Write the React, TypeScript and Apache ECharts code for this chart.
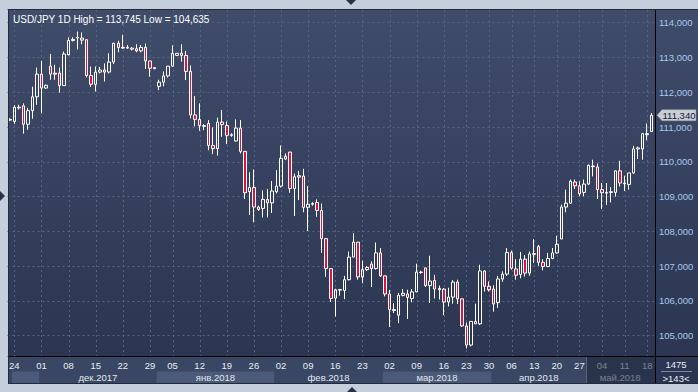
import React, { useEffect, useRef } from 'react';
import * as echarts from 'echarts';

const opens = [
  111.22, 111.16, 111.57, 111.61, 111.08, 111.47, 111.87, 112.52, 112.12, 112.75,
  112.55, 112.55, 112.19, 113.08, 113.49, 113.56, 113.56, 113.51, 112.48, 112.23,
  112.58, 112.64, 112.58, 112.87, 113.41, 113.29, 113.27, 113.27, 113.25, 113.19,
  113.29, 112.90, 112.71, 112.17, 112.29, 112.47, 112.75, 113.06, 113.12, 113.06,
  112.60, 111.35, 111.22, 111.04, 111.10, 110.47, 110.38, 111.14, 111.04, 110.78,
  110.60, 110.97, 110.30, 109.14, 109.26, 108.70, 108.66, 108.92, 108.82, 109.14,
  109.30, 110.08, 110.28, 109.23, 109.60, 109.59, 108.69, 108.80, 108.83, 108.60,
  107.79, 106.93, 106.08, 106.31, 106.30, 106.61, 107.26, 107.69, 106.69, 106.90,
  107.06, 106.93, 107.38, 106.72, 106.20, 105.75, 105.59, 106.16, 106.20, 106.07,
  106.26, 106.83, 106.95, 106.44, 106.59, 106.36, 106.34, 105.97, 106.11, 106.54,
  106.06, 105.28, 104.73, 105.41, 105.34, 106.86, 106.42, 106.34, 105.95, 106.63,
  106.77, 107.39, 106.92, 106.76, 107.20, 106.80, 107.34, 107.56, 107.11, 106.99,
  107.22, 107.38, 107.78, 108.70, 108.81, 109.42, 109.31, 109.12, 109.36, 109.88,
  109.85, 109.20, 109.12, 109.14, 109.12, 109.74, 109.39, 109.35, 109.68, 110.37,
  110.37, 110.81, 110.87,
];
const closes = [
  111.20, 111.57, 111.55, 111.08, 111.47, 111.87, 112.52, 112.12, 112.20, 112.52,
  112.52, 112.19, 113.10, 113.49, 113.52, 113.58, 113.50, 112.48, 112.23, 112.58,
  112.64, 112.58, 112.87, 113.41, 113.29, 113.27, 113.29, 113.24, 113.19, 113.29,
  112.90, 112.69, 112.68, 112.29, 112.47, 112.75, 113.12, 113.12, 113.06, 112.60,
  111.35, 111.22, 111.04, 111.02, 110.47, 110.38, 111.14, 111.07, 110.76, 110.76,
  110.97, 110.30, 109.11, 109.26, 108.70, 108.63, 108.92, 108.82, 109.16, 109.30,
  110.10, 110.16, 109.23, 109.57, 109.56, 108.69, 108.78, 108.78, 108.60, 107.79,
  106.93, 106.07, 106.32, 106.33, 106.61, 107.26, 107.69, 106.69, 106.90, 106.96,
  106.93, 107.38, 106.72, 106.20, 105.75, 105.72, 106.16, 106.22, 106.10, 106.26,
  106.83, 106.82, 106.44, 106.57, 106.34, 106.32, 105.97, 106.11, 106.54, 106.06,
  105.28, 104.73, 105.41, 105.34, 106.86, 106.42, 106.32, 105.91, 106.63, 106.77,
  107.39, 106.94, 106.74, 107.20, 106.80, 107.35, 107.36, 107.11, 106.99, 107.22,
  107.38, 107.63, 108.70, 108.81, 109.44, 109.31, 109.08, 109.36, 109.90, 109.86,
  109.20, 109.11, 109.10, 109.12, 109.74, 109.39, 109.37, 109.68, 110.37, 110.40,
  110.81, 110.78, 111.34,
];
const lows = [
  111.17, 111.09, 111.50, 110.81, 110.92, 111.24, 111.64, 111.39, 112.10, 112.36,
  112.36, 111.99, 112.19, 113.06, 113.46, 113.23, 113.38, 112.43, 112.15, 112.02,
  112.54, 112.31, 112.54, 112.81, 113.15, 113.25, 113.25, 113.20, 113.15, 113.15,
  112.67, 112.45, 112.66, 112.06, 112.17, 112.42, 112.73, 113.04, 112.88, 112.35,
  111.25, 111.02, 110.89, 110.91, 110.33, 110.22, 110.18, 110.72, 110.51, 110.72,
  110.58, 110.24, 108.93, 108.47, 108.26, 108.59, 108.40, 108.40, 108.53, 109.09,
  109.26, 110.05, 109.11, 108.44, 108.90, 108.55, 108.01, 108.74, 108.42, 107.38,
  106.69, 105.97, 105.55, 106.15, 106.05, 106.59, 107.26, 106.61, 106.51, 106.86,
  106.40, 106.90, 106.69, 106.13, 105.25, 105.65, 105.36, 106.13, 105.48, 105.96,
  106.25, 106.78, 106.40, 105.94, 106.07, 106.04, 105.59, 105.84, 105.92, 105.91,
  105.25, 104.635, 104.69, 105.34, 105.31, 106.27, 106.27, 105.69, 105.80, 106.55,
  106.72, 106.90, 106.61, 106.65, 106.70, 106.72, 107.09, 107.01, 106.88, 106.97,
  107.20, 107.36, 107.78, 108.55, 108.79, 109.22, 109.01, 109.01, 109.33, 109.58,
  108.93, 108.64, 108.76, 108.83, 109.00, 109.29, 109.16, 109.20, 109.66, 110.08,
  110.06, 110.62, 110.87,
];
const highs = [
  111.25, 111.63, 111.64, 111.68, 111.55, 112.16, 112.71, 112.90, 112.22, 113.10,
  112.79, 112.71, 113.17, 113.58, 113.58, 113.745, 113.72, 113.52, 112.74, 112.74,
  112.73, 112.83, 113.12, 113.42, 113.48, 113.65, 113.36, 113.30, 113.38, 113.36,
  113.40, 112.90, 112.71, 112.36, 112.60, 112.75, 113.35, 113.12, 113.38, 113.19,
  112.77, 111.89, 111.68, 111.08, 111.20, 110.99, 111.27, 111.49, 111.16, 110.82,
  111.22, 111.20, 110.30, 109.70, 109.78, 108.74, 109.18, 109.22, 109.45, 109.76,
  110.47, 110.24, 110.28, 109.66, 109.74, 109.80, 109.30, 108.84, 108.92, 108.80,
  107.79, 106.93, 106.35, 106.33, 106.72, 107.42, 107.95, 107.69, 107.16, 107.00,
  107.14, 107.68, 107.52, 106.72, 106.32, 105.94, 106.23, 106.34, 106.32, 106.34,
  107.07, 106.87, 106.95, 107.30, 106.75, 106.44, 106.37, 106.38, 106.60, 106.61,
  106.06, 105.38, 105.41, 105.92, 107.04, 106.88, 106.56, 106.45, 106.72, 106.85,
  107.52, 107.45, 107.20, 107.41, 107.32, 107.42, 107.78, 107.61, 107.20, 107.38,
  107.52, 107.87, 108.77, 109.20, 109.49, 109.49, 109.44, 109.49, 109.92, 110.06,
  109.95, 109.39, 109.39, 109.27, 109.75, 110.03, 109.60, 109.68, 110.46, 110.44,
  110.83, 111.10, 111.40,
];

const tickIndex = [1, 7, 13, 19, 25, 31, 36, 42, 48, 54, 60, 66, 72, 78, 84, 90, 96, 101, 106, 111, 116, 121, 126, 131, 136, 141];
const tickLabels = ['24', '01', '08', '15', '22', '29', '05', '12', '19', '26', '02', '09', '16', '23', '02', '09', '16', '23', '30', '06', '13', '20', '27', '04', '11', '18'];

const monthNames = ['', 'дек.2017', 'янв.2018', 'фев.2018', 'мар.2018', 'апр.2018', 'май.2018'];
const monthStart = [1, 7, 33, 59, 83, 107, 128];

const symbolName = 'USD/JPY';
const periodName = '1D';
const totalBars = '1475';

const FONT = '"Liberation Sans", Arial, sans-serif';

export default function App() {
  const ref = useRef<HTMLDivElement>(null);
  useEffect(() => {
    const el = ref.current!;
    const chart = echarts.init(el, null, { renderer: 'svg' });
    const n = opens.length;
    const cats = opens.map((_, i) => String(i));
    const data = opens.map((o, i) => [o, closes[i], lows[i], highs[i]]);
    const tickSet = new Set(tickIndex);
    const labelMap: Record<number, string> = {};
    tickIndex.forEach((t, k) => (labelMap[t] = tickLabels[k]));
    const fmt = (v: number) => v.toFixed(3).replace('.', ',');
    const hi = Math.max(...highs);
    const lo = Math.min(...lows);
    const gridColor = '#56647f';
    const gridStyle = { color: gridColor, width: 1, type: [2, 3] };
    const gridTop = 9;
    const gridH = 347;

    chart.setOption({
      animation: false,
      backgroundColor: '#c5cfdb',
      textStyle: { fontFamily: FONT },
      title: {
        text: `${symbolName} ${periodName} High = ${fmt(hi)} Low = ${fmt(lo)}`,
        left: 8,
        top: 9,
        textStyle: { color: '#ffffff', fontSize: 10, fontWeight: 'normal', fontFamily: FONT },
      },
      grid: { left: 7.5, top: gridTop, width: 646.5, height: gridH, containLabel: false, outerBoundsMode: 'none' },
      xAxis: {
        type: 'category',
        data: cats,
        boundaryGap: true,
        axisLine: { show: false },
        axisTick: { show: false },
        axisLabel: {
          interval: (i: number) => tickSet.has(i),
          formatter: (_v: string, i: number) => labelMap[i] || '',
          color: '#e8edf4',
          fontSize: 9.5,
          fontFamily: FONT,
          margin: 4,
          hideOverlap: false,
        },
        splitLine: { show: false },
      },
      yAxis: {
        type: 'value',
        position: 'right',
        min: 104.416,
        max: 114.394,
        splitNumber: 10,
        axisLine: { show: false },
        axisTick: { show: false },
        axisLabel: {
          formatter: fmt,
          color: '#a9c9f0',
          fontSize: 9.5,
          fontFamily: FONT,
          margin: 5,
          showMinLabel: false,
          showMaxLabel: false,
        },
        splitLine: { show: true, lineStyle: gridStyle },
      },
      series: [
        {
          type: 'candlestick',
          data,
          barWidth: 3,
          itemStyle: {
            color: 'transparent',
            color0: '#dc143c',
            borderColor: '#ffffff',
            borderColor0: '#ffffff',
            borderWidth: 1,
          },
        },
      ],
    });

    const cx = (i: number) => chart.convertToPixel({ xAxisIndex: 0 }, i) as number;
    const half = (cx(1) - cx(0)) / 2;
    const bx = (i: number) => (i >= n ? cx(n - 1) + half : cx(i) - half);
    const lastClose = closes[n - 1];
    const py = chart.convertToPixel({ yAxisIndex: 0 }, lastClose) as number;

    const graphics: any[] = [];
    graphics.push({
      type: 'rect', z: -10, silent: true,
      shape: { x: 8, y: 9, width: 690, height: 375 },
      style: {
        fill: new echarts.graphic.LinearGradient(0, 0, 0, 1, [
          { offset: 0, color: '#3f4c6a' },
          { offset: 1, color: '#2a3450' },
        ]),
      },
    });
    // vertical dashed grid lines at the date ticks
    tickIndex.forEach((t) => {
      const x = Math.round(cx(t));
      for (let y = gridTop + 1; y < gridTop + gridH; y += 5) {
        graphics.push({
          type: 'rect', z: -3, silent: true,
          shape: { x, y, width: 1, height: Math.min(2, gridTop + gridH - y) },
          style: { fill: gridColor },
        });
      }
    });
    graphics.push({
      type: 'rect', z: -5, silent: true,
      shape: { x: 8, y: 357, width: 647, height: 27 },
      style: { fill: '#394664' },
    });
    for (let m = 0; m < monthStart.length; m++) {
      const s = monthStart[m];
      const e = m + 1 < monthStart.length ? monthStart[m + 1] : n;
      const x0 = bx(s);
      const x1 = Math.min(bx(e), 655);
      if (m % 2 === 0 && m < monthStart.length - 1) {
        graphics.push({
          type: 'rect', z: -4, silent: true,
          shape: { x: x0, y: 371.5, width: x1 - x0, height: 12 },
          style: { fill: '#4b5a78' },
        });
      }
      if (monthNames[m]) {
        graphics.push({
          type: 'text', z: 2, silent: true,
          x: (x0 + x1) / 2, y: 377,
          style: {
            text: monthNames[m], fill: '#e3e8f0', font: `9.5px ${FONT}`,
            align: 'center', verticalAlign: 'middle',
          },
        });
      }
    }
    const dimX = bx(monthStart[monthStart.length - 1]);
    graphics.push({
      type: 'rect', z: 50, silent: true,
      shape: { x: dimX, y: 357, width: 655 - dimX, height: 27 },
      style: { fill: 'rgba(28,36,56,0.55)' },
    });
    graphics.push({
      type: 'rect', z: 51, silent: true,
      shape: { x: Math.round(dimX), y: 357, width: 1, height: 27 },
      style: { fill: '#56637e' },
    });
    graphics.push({
      type: 'rect', z: 60, silent: true,
      shape: { x: 655, y: 9, width: 1, height: 375 },
      style: { fill: '#000000' },
    });
    graphics.push({
      type: 'rect', z: 60, silent: true,
      shape: { x: 8, y: 356, width: 690, height: 1 },
      style: { fill: '#000000' },
    });
    graphics.push({
      type: 'rect', z: 61, silent: true,
      shape: { x: 8.5, y: 9.5, width: 690, height: 374 },
      style: { fill: 'none', stroke: '#222a3c', lineWidth: 1 },
    });
    graphics.push({
      type: 'text', z: 62, silent: true, x: 676, y: 364,
      style: { text: totalBars, fill: '#e8edf4', font: `9.5px ${FONT}`, align: 'center', verticalAlign: 'middle' },
    });
    graphics.push({
      type: 'rect', z: 62, silent: true,
      shape: { x: 661, y: 371, width: 31, height: 1 },
      style: { fill: '#7d8aa3' },
    });
    graphics.push({
      type: 'text', z: 62, silent: true, x: 676, y: 378,
      style: { text: `>${n}<`, fill: '#e8edf4', font: `9.5px ${FONT}`, align: 'center', verticalAlign: 'middle' },
    });
    graphics.push({
      type: 'polygon', z: 70, silent: true,
      shape: { points: [[657, py], [662, py - 5.5], [696, py - 5.5], [696, py + 5.5], [662, py + 5.5]] },
      style: { fill: '#c9cdd4', stroke: '#9aa0aa', lineWidth: 0.5 },
    });
    graphics.push({
      type: 'text', z: 71, silent: true, x: 679, y: py,
      style: { text: fmt(lastClose), fill: '#14213a', font: `9.5px ${FONT}`, align: 'center', verticalAlign: 'middle' },
    });
    graphics.push({
      type: 'polygon', z: 80, silent: true,
      shape: { points: [[346, 0], [356, 0], [351, 5]] },
      style: { fill: '#2a3245' },
    });
    graphics.push({
      type: 'polygon', z: 80, silent: true,
      shape: { points: [[0, 191], [0, 201], [5, 196]] },
      style: { fill: '#2a3245' },
    });
    graphics.push({
      type: 'polygon', z: 80, silent: true,
      shape: { points: [[347, 392], [357, 392], [352, 387]] },
      style: { fill: '#2a3245' },
    });

    chart.setOption({ graphic: graphics });

    return () => chart.dispose();
  }, []);

  return (
    <div
      ref={ref}
      style={{ position: 'fixed', left: 0, top: 0, width: 698, height: 392, background: '#c5cfdb' }}
    />
  );
}
